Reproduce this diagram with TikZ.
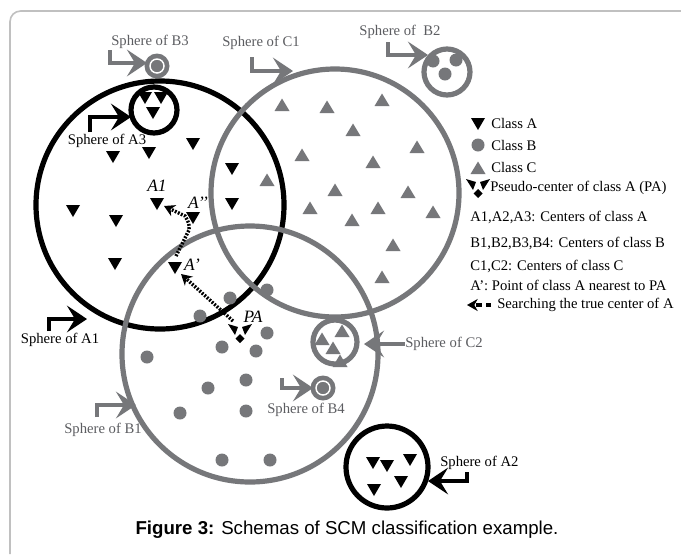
\documentclass[tikz,border=0pt]{standalone}
\usepackage{fontspec}
\setmainfont{Liberation Serif}
\newfontfamily\capfont{Liberation Sans}
\usetikzlibrary{arrows.meta}
\definecolor{sgray}{RGB}{118,119,122}
\definecolor{tgray}{RGB}{92,93,97}
\definecolor{fgray}{RGB}{192,192,192}

\tikzset{
  ring/.style={line width=3.9pt},
  tA/.pic={\fill[black] (-7,-5) -- (7,-5) -- (0,7) -- cycle;},
  tC/.pic={\fill[sgray] (-7.5,6) -- (7.5,6) -- (0,-6.5) -- cycle;},
  dB/.pic={\fill[sgray] (0,0) circle[radius=6.5];},
  bctr/.pic={\fill[sgray] (0,0) circle[radius=12.5];
             \draw[white,line width=1.1pt] (0,0) circle[radius=7];},
  pa/.pic={\fill[black] (-12,-7) -- (-2,-4) -- (-5,4) -- cycle;
           \fill[black] (12,-7) -- (2,-4) -- (5,4) -- cycle;
           \fill[black] (0,3) -- (4.5,7.5) -- (0,12) -- (-4.5,7.5) -- cycle;},
  sph/.style={line width=2.3pt,-{Stealth[length=15pt,width=20pt,inset=6pt]}},
  search/.style={line width=2.6pt,dash pattern=on 1.4pt off 1.1pt,
                 -{Stealth[length=8pt,width=9pt,inset=2.5pt]}},
  slab/.style={inner sep=0pt,font=\fontsize{11}{13}\selectfont,text=tgray},
  alab/.style={inner sep=0pt,font=\fontsize{11}{13}\selectfont},
  leg/.style={anchor=west,inner sep=0pt,font=\fontsize{11}{13}\selectfont},
  ptlab/.style={inner sep=0pt,font=\fontsize{13}{15}\selectfont\itshape},
}

\begin{document}
\begin{tikzpicture}[x=0.75pt,y=-0.75pt]
\useasboundingbox (0,0) rectangle (681,554);
\fill[white] (0,0) rectangle (681,554);

% page frame
\draw[fgray,line width=1.2pt,rounded corners=8pt] (681,11) -- (10,11) -- (10,554);

% ---------- large spheres ----------
\draw[ring,black] (160,205) circle[radius=124];
\draw[ring,sgray] (335,193) circle[radius=124];
\draw[ring,sgray] (250,354) circle[radius=128];

% class C points in sphere C1
\foreach \p in {(282,105),(327,107),(382,100),(353,130),(302,155),(373,162),
  (417,147),(267,180),(335,190),(408,192),(310,208),(378,208),(352,220),
  (433,212),(393,245),(382,277)}
  \pic at \p {tC};

% class A points in sphere A1
\foreach \p in {(113,156),(149,152),(193,143),(232,168),(73,210),(116,220),
  (232,203),(115,263)}
  \pic at \p {tA};
\pic at (157,203) {tA};
\pic at (193,217) {tA};
\pic at (175,267) {tA};

% class B points in sphere B1
\foreach \p in {(230,298),(267,290),(200,316),(267,333),(222,347),(256,351),
  (147,357),(208,388),(246,380),(180,413),(246,411),(222,460),(270,460)}
  \pic at \p {dB};

% pseudo-center of class A
\pic at (240,331) {pa};

% point labels
\node[ptlab] (lA1) at (157,186) {A1};
\node[ptlab] (lA2) at (198,203) {A’’};
\node[ptlab] (lA3) at (192,265) {A’};
\node[ptlab] (lPA) at (253,317) {PA};

% search path from PA towards the true center
\coordinate (s0) at (233,321);
\coordinate (s1) at (181,274);
\coordinate (s2) at (176,256);
\coordinate (s3) at (189,230);
\coordinate (s4) at (185,216);
\coordinate (s5) at (164,206);
\draw[search] (s0) -- (s1);
\draw[search] (s2) -- (s3) to[out=80,in=-60] (s4) -- (s5);

% ---------- small spheres ----------
% A3
\draw[ring,black] (154,110) circle[radius=23];
\pic at (145,97) {tA};
\pic at (161,97) {tA};
\pic at (153,112) {tA};
% B3
\pic at (157,66) {bctr};
% B2
\draw[ring,sgray] (447,72) circle[radius=23];
\fill[sgray] (433,61) circle[radius=6.5];
\fill[sgray] (456,60) circle[radius=6.5];
\fill[sgray] (445,74) circle[radius=6.5];
% C2
\draw[ring,sgray] (335,342) circle[radius=22];
\pic at (342,331) {tC};
\pic at (322,339) {tC};
\pic at (333,348) {tC};
\pic at (340,361) {tC};
% B4
\pic at (323,388) {bctr};
% A2
\draw[ring,black] (387,467) circle[radius=41];
\pic at (373,462) {tA};
\pic at (387,465) {tA};
\pic at (410,459) {tA};
\pic at (374,489) {tA};
\pic at (401,481) {tA};

% ---------- sphere labels and pointers ----------
\node[slab] (nB3) at (150,42) {Sphere of B3};
\coordinate (pB3a) at (110,50); \coordinate (pB3b) at (147,63);
\draw[sph,sgray] (pB3a) |- (pB3b);

\node[slab] (nC1) at (261,43) {Sphere of C1};
\coordinate (pC1a) at (252,57); \coordinate (pC1b) at (293,71);
\draw[sph,sgray] (pC1a) |- (pC1b);

\node[slab] (nB2) at (400,32) {Sphere of\ \ B2};
\coordinate (pB2a) at (388,42); \coordinate (pB2b) at (428,55);
\draw[sph,sgray] (pB2a) |- (pB2b);

\node[alab] (nA3) at (107,141) {Sphere of A3};
\coordinate (pA3a) at (90,132); \coordinate (pA3b) at (131,117);
\draw[sph,black] (pA3a) |- (pA3b);

\node[alab] (nA1) at (60,340) {Sphere of A1};
\coordinate (pA1a) at (49,331); \coordinate (pA1b) at (87,319);
\draw[sph,black] (pA1a) |- (pA1b);

\node[slab] (nB1) at (103,430) {Sphere of B1};
\coordinate (pB1a) at (97,417); \coordinate (pB1b) at (136,405);
\draw[sph,sgray] (pB1a) |- (pB1b);

\node[slab,anchor=west] (nC2) at (405,344) {Sphere of C2};
\coordinate (pC2b) at (364,344);
\draw[sph,sgray] (nC2.west) -- (pC2b);

\node[slab] (nB4) at (306,410) {Sphere of B4};
\coordinate (pB4a) at (282,378); \coordinate (pB4b) at (313,388);
\draw[sph,sgray] (pB4a) |- (pB4b);

\node[alab,anchor=west] (nA2) at (440,463) {Sphere of A2};
\coordinate (pA2a) at (467,472); \coordinate (pA2b) at (428,481);
\draw[sph,black] (pA2a) |- (pA2b);

% ---------- legend ----------
\pic at (478,123) {tA};
\node[leg] (gA) at (491,123) {Class A};
\fill[sgray] (478,145) circle[radius=6.5];
\node[leg] (gB) at (491,145) {Class B};
\pic at (478,168) {tC};
\node[leg] (gC) at (491,167) {Class C};
\pic at (478,186) {pa};
\node[leg] (gP) at (490,188) {Pseudo-center of class A (PA)};
\node[leg] (g1) at (470,217) {A1,A2,A3: Centers of class A};
\node[leg] (g2) at (470,243) {B1,B2,B3,B4: Centers of class B};
\node[leg] (g3) at (470,266) {C1,C2: Centers of class C};
\node[leg] (g4) at (470,285) {A’: Point of class A nearest to PA};
\coordinate (gs0) at (491,305); \coordinate (gs1) at (467,305);
\draw[search,dash pattern=on 4pt off 3pt] (gs0) -- (gs1);
\node[leg] (g5) at (497,305) {Searching the true center of A};

% ---------- caption ----------
\node[inner sep=0pt,font=\capfont\fontsize{14}{16}\selectfont] (cap) at (347,530)
  {\textbf{Figure 3:} Schemas of SCM classification example.};
\end{tikzpicture}
\end{document}
